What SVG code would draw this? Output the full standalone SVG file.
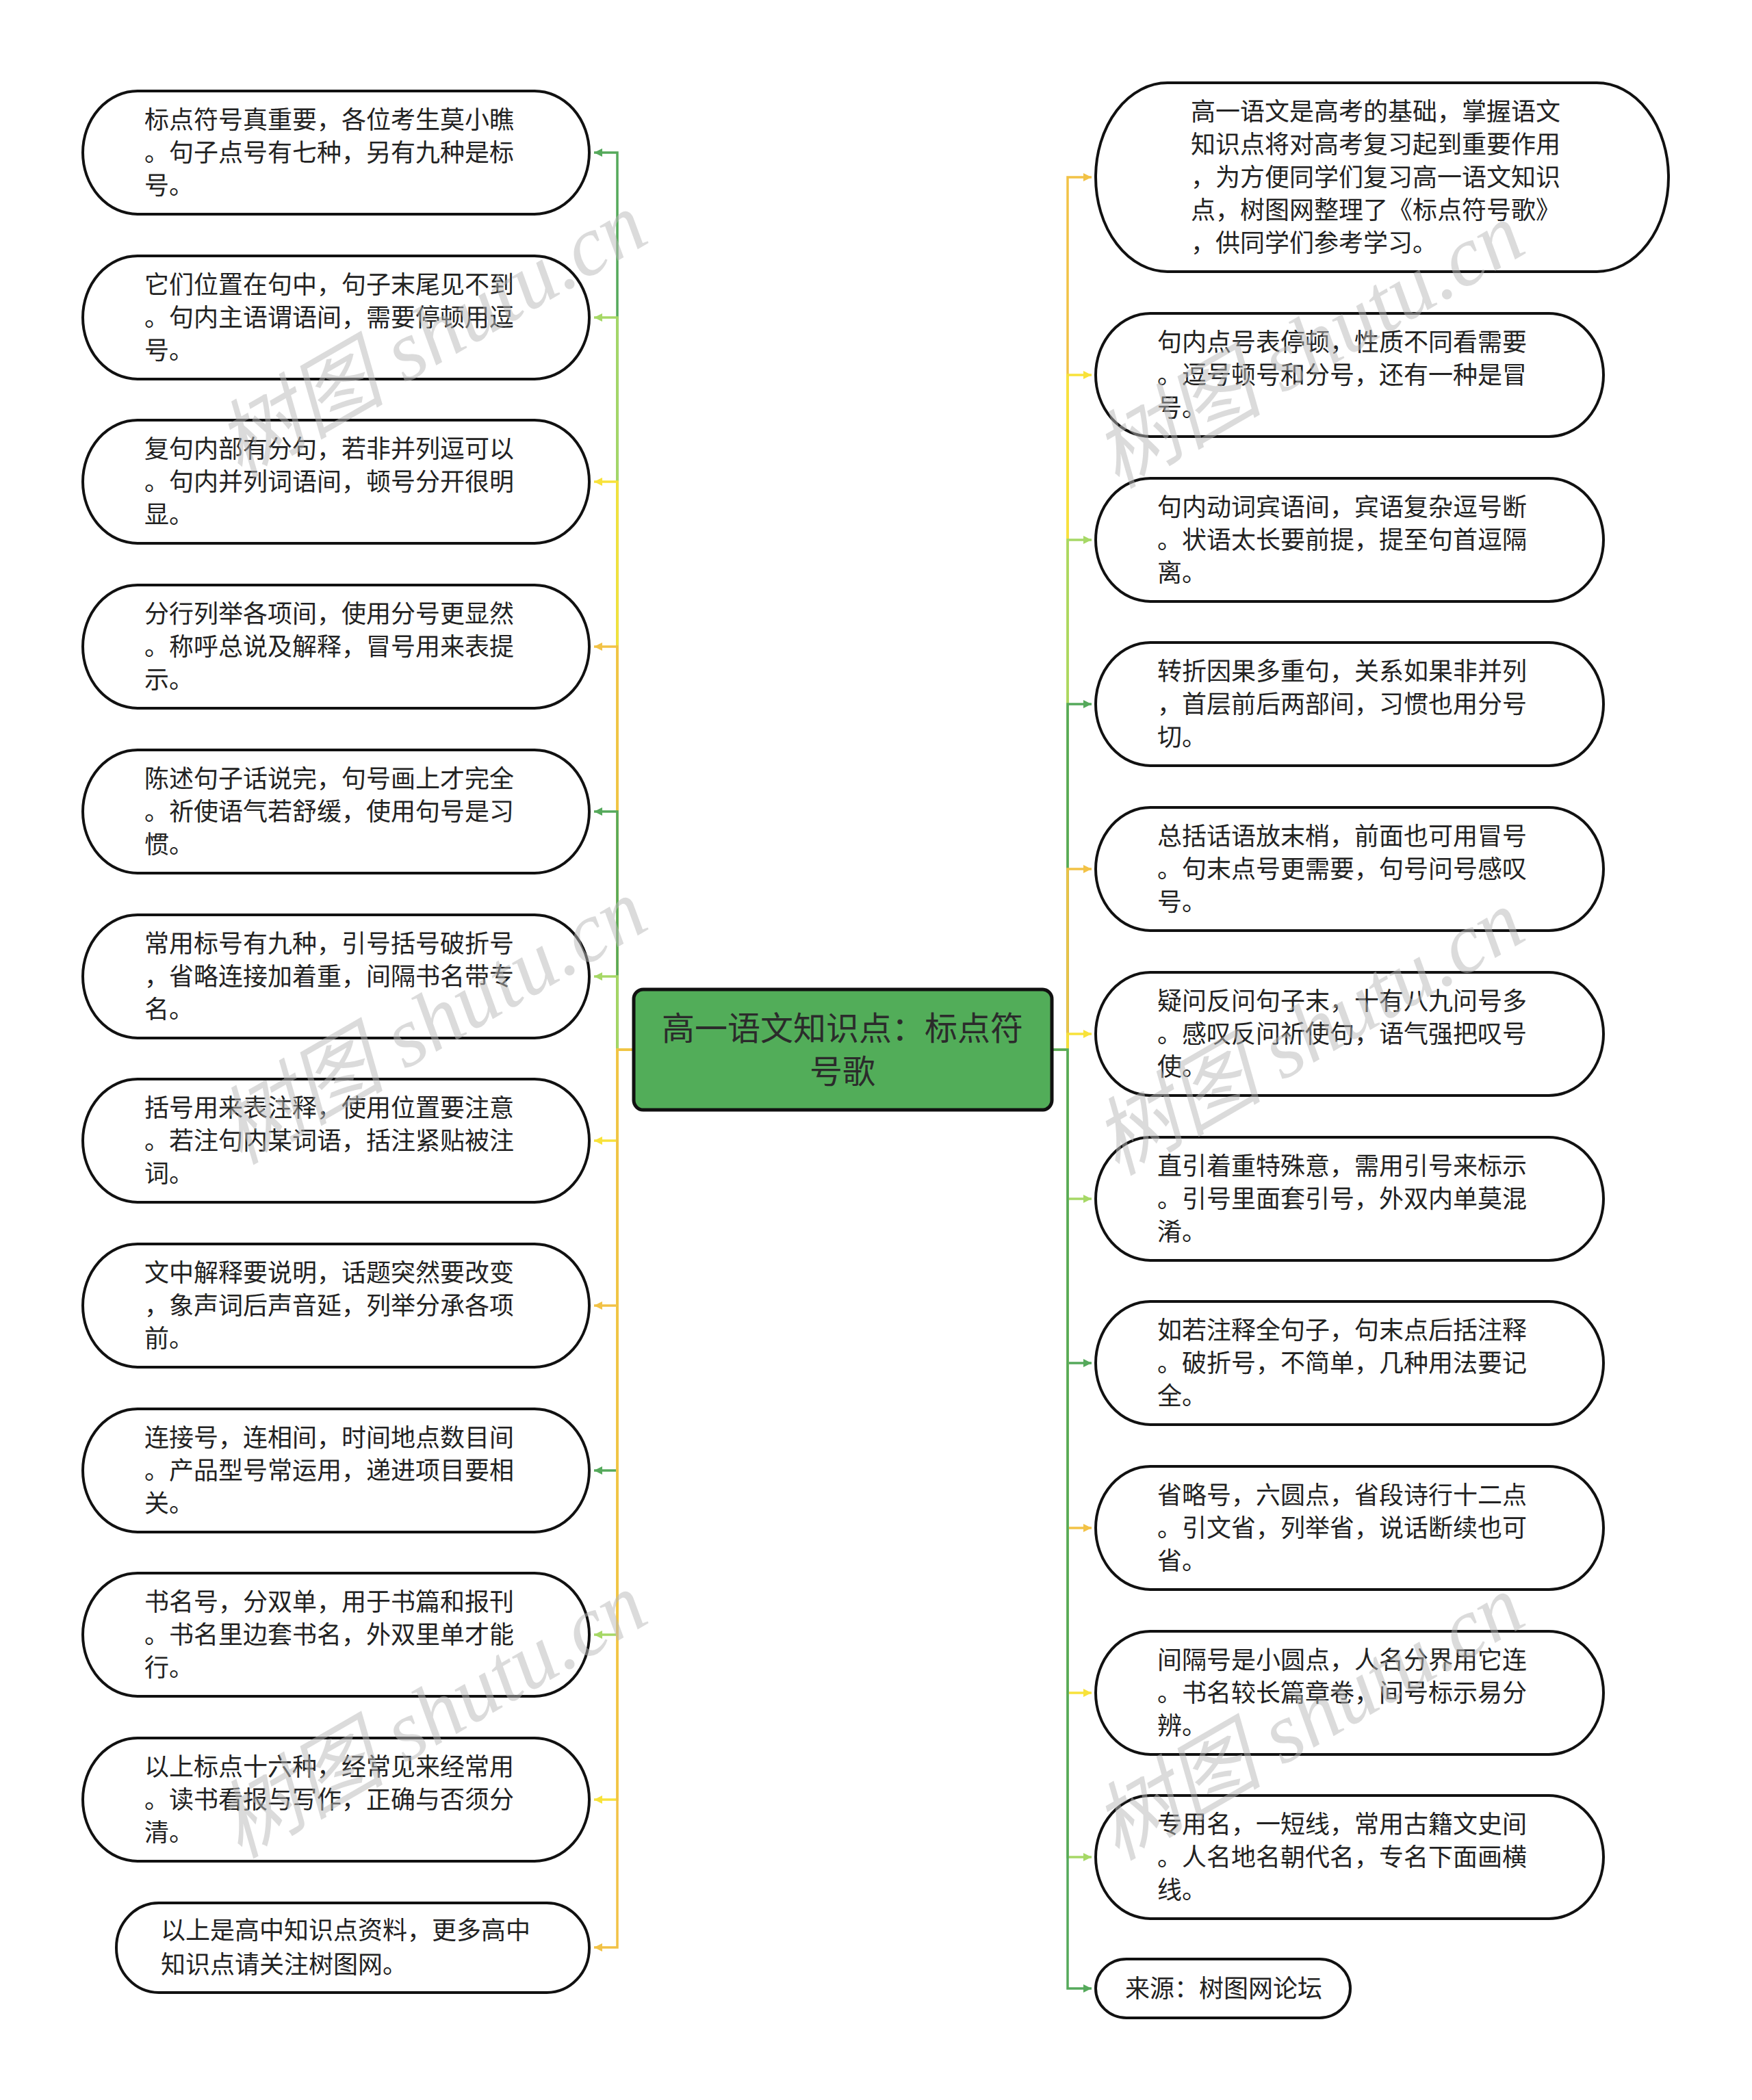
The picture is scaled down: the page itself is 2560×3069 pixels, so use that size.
<svg xmlns="http://www.w3.org/2000/svg" width="2560" height="3069" viewBox="0 0 2560 3069">
<style>
.bg{fill:#ffffff}
.node{fill:#ffffff;stroke:#111111;stroke-width:4}
.root{fill:#52ad59;stroke:#111111;stroke-width:5}
.t{font-family:"Noto Sans CJK SC","Noto Sans",sans-serif;font-size:36px;fill:#222222}
.rt{font-family:"Noto Sans CJK SC","Noto Sans",sans-serif;font-size:48px;fill:#2b2b2b;text-anchor:middle}
.c{fill:none;stroke-width:3.5}
.g{stroke:#55a95b}.lg{stroke:#a6d866}.y{stroke:#f8e23a}.o{stroke:#f2c246}
.wm{font-family:"Liberation Serif","Noto Sans CJK SC",serif;font-style:italic;font-size:124px;fill:#b8b8b8;opacity:0.5}
</style>
<defs>
<marker id="ag" viewBox="0 0 10 10" refX="10" refY="5" markerUnits="userSpaceOnUse" markerWidth="16" markerHeight="12" orient="auto"><path d="M0,0 L10,5 L0,10 z" fill="#55a95b"/></marker>
<marker id="alg" viewBox="0 0 10 10" refX="10" refY="5" markerUnits="userSpaceOnUse" markerWidth="16" markerHeight="12" orient="auto"><path d="M0,0 L10,5 L0,10 z" fill="#a6d866"/></marker>
<marker id="ay" viewBox="0 0 10 10" refX="10" refY="5" markerUnits="userSpaceOnUse" markerWidth="16" markerHeight="12" orient="auto"><path d="M0,0 L10,5 L0,10 z" fill="#f8e23a"/></marker>
<marker id="ao" viewBox="0 0 10 10" refX="10" refY="5" markerUnits="userSpaceOnUse" markerWidth="16" markerHeight="12" orient="auto"><path d="M0,0 L10,5 L0,10 z" fill="#f2c246"/></marker>
</defs>
<rect class="bg" x="0" y="0" width="2560" height="3069"/>

<g id="connectors">
<path class="c g" marker-end="url(#ag)" d="M926 1534 H902 V223 H868"/>
<path class="c lg" marker-end="url(#alg)" d="M926 1534 H902 V464 H868"/>
<path class="c y" marker-end="url(#ay)" d="M926 1534 H902 V704 H868"/>
<path class="c o" marker-end="url(#ao)" d="M926 1534 H902 V945 H868"/>
<path class="c g" marker-end="url(#ag)" d="M926 1534 H902 V1186 H868"/>
<path class="c lg" marker-end="url(#alg)" d="M926 1534 H902 V1427 H868"/>
<path class="c y" marker-end="url(#ay)" d="M926 1534 H902 V1667 H868"/>
<path class="c o" marker-end="url(#ao)" d="M926 1534 H902 V1908 H868"/>
<path class="c g" marker-end="url(#ag)" d="M926 1534 H902 V2149 H868"/>
<path class="c lg" marker-end="url(#alg)" d="M926 1534 H902 V2389 H868"/>
<path class="c y" marker-end="url(#ay)" d="M926 1534 H902 V2630 H868"/>
<path class="c o" marker-end="url(#ao)" d="M926 1534 H902 V2846 H868"/>

<path class="c o" marker-end="url(#ao)" d="M1537 1534 H1560 V259 H1595"/>
<path class="c y" marker-end="url(#ay)" d="M1537 1534 H1560 V548 H1595"/>
<path class="c lg" marker-end="url(#alg)" d="M1537 1534 H1560 V789 H1595"/>
<path class="c g" marker-end="url(#ag)" d="M1537 1534 H1560 V1029 H1595"/>
<path class="c o" marker-end="url(#ao)" d="M1537 1534 H1560 V1270 H1595"/>
<path class="c y" marker-end="url(#ay)" d="M1537 1534 H1560 V1511 H1595"/>
<path class="c lg" marker-end="url(#alg)" d="M1537 1534 H1560 V1752 H1595"/>
<path class="c g" marker-end="url(#ag)" d="M1537 1534 H1560 V1992 H1595"/>
<path class="c o" marker-end="url(#ao)" d="M1537 1534 H1560 V2233 H1595"/>
<path class="c y" marker-end="url(#ay)" d="M1537 1534 H1560 V2474 H1595"/>
<path class="c lg" marker-end="url(#alg)" d="M1537 1534 H1560 V2714 H1595"/>
<path class="c g" marker-end="url(#ag)" d="M1537 1534 H1560 V2906 H1595"/>
</g>

<g id="root">
<rect class="root" x="926" y="1446" width="611" height="176" rx="14" ry="14"/>
<text class="rt" x="1231" y="1520">高一语文知识点：标点符</text>
<text class="rt" x="1231" y="1583">号歌</text>
</g>

<g id="L1"><rect class="node" x="121" y="133" width="740" height="180" rx="80" ry="90"/>
<text class="t" x="211" y="188">标点符号真重要，各位考生莫小瞧</text><text class="t" x="211" y="236">。句子点号有七种，另有九种是标</text><text class="t" x="211" y="284">号。</text></g>
<g id="L2"><rect class="node" x="121" y="374" width="740" height="180" rx="80" ry="90"/>
<text class="t" x="211" y="429">它们位置在句中，句子末尾见不到</text><text class="t" x="211" y="477">。句内主语谓语间，需要停顿用逗</text><text class="t" x="211" y="525">号。</text></g>
<g id="L3"><rect class="node" x="121" y="614" width="740" height="180" rx="80" ry="90"/>
<text class="t" x="211" y="669">复句内部有分句，若非并列逗可以</text><text class="t" x="211" y="717">。句内并列词语间，顿号分开很明</text><text class="t" x="211" y="765">显。</text></g>
<g id="L4"><rect class="node" x="121" y="855" width="740" height="180" rx="80" ry="90"/>
<text class="t" x="211" y="910">分行列举各项间，使用分号更显然</text><text class="t" x="211" y="958">。称呼总说及解释，冒号用来表提</text><text class="t" x="211" y="1006">示。</text></g>
<g id="L5"><rect class="node" x="121" y="1096" width="740" height="180" rx="80" ry="90"/>
<text class="t" x="211" y="1151">陈述句子话说完，句号画上才完全</text><text class="t" x="211" y="1199">。祈使语气若舒缓，使用句号是习</text><text class="t" x="211" y="1247">惯。</text></g>
<g id="L6"><rect class="node" x="121" y="1337" width="740" height="180" rx="80" ry="90"/>
<text class="t" x="211" y="1392">常用标号有九种，引号括号破折号</text><text class="t" x="211" y="1440">，省略连接加着重，间隔书名带专</text><text class="t" x="211" y="1488">名。</text></g>
<g id="L7"><rect class="node" x="121" y="1577" width="740" height="180" rx="80" ry="90"/>
<text class="t" x="211" y="1632">括号用来表注释，使用位置要注意</text><text class="t" x="211" y="1680">。若注句内某词语，括注紧贴被注</text><text class="t" x="211" y="1728">词。</text></g>
<g id="L8"><rect class="node" x="121" y="1818" width="740" height="180" rx="80" ry="90"/>
<text class="t" x="211" y="1873">文中解释要说明，话题突然要改变</text><text class="t" x="211" y="1921">，象声词后声音延，列举分承各项</text><text class="t" x="211" y="1969">前。</text></g>
<g id="L9"><rect class="node" x="121" y="2059" width="740" height="180" rx="80" ry="90"/>
<text class="t" x="211" y="2114">连接号，连相间，时间地点数目间</text><text class="t" x="211" y="2162">。产品型号常运用，递进项目要相</text><text class="t" x="211" y="2210">关。</text></g>
<g id="L10"><rect class="node" x="121" y="2299" width="740" height="180" rx="80" ry="90"/>
<text class="t" x="211" y="2354">书名号，分双单，用于书篇和报刊</text><text class="t" x="211" y="2402">。书名里边套书名，外双里单才能</text><text class="t" x="211" y="2450">行。</text></g>
<g id="L11"><rect class="node" x="121" y="2540" width="740" height="180" rx="80" ry="90"/>
<text class="t" x="211" y="2595">以上标点十六种，经常见来经常用</text><text class="t" x="211" y="2643">。读书看报与写作，正确与否须分</text><text class="t" x="211" y="2691">清。</text></g>
<g id="L12"><rect class="node" x="170" y="2781" width="691" height="131" rx="62" ry="65"/>
<text class="t" x="235" y="2834">以上是高中知识点资料，更多高中</text><text class="t" x="235" y="2884">知识点请关注树图网。</text></g>

<g id="R0"><rect class="node" x="1601" y="121" width="837" height="276" rx="105" ry="138"/>
<text class="t" x="1740" y="176">高一语文是高考的基础，掌握语文</text><text class="t" x="1740" y="224">知识点将对高考复习起到重要作用</text><text class="t" x="1740" y="272">，为方便同学们复习高一语文知识</text><text class="t" x="1740" y="320">点，树图网整理了《标点符号歌》</text><text class="t" x="1740" y="368">，供同学们参考学习。</text></g>
<g id="R1"><rect class="node" x="1601" y="458" width="742" height="180" rx="80" ry="90"/>
<text class="t" x="1691" y="513">句内点号表停顿，性质不同看需要</text><text class="t" x="1691" y="561">。逗号顿号和分号，还有一种是冒</text><text class="t" x="1691" y="609">号。</text></g>
<g id="R2"><rect class="node" x="1601" y="699" width="742" height="180" rx="80" ry="90"/>
<text class="t" x="1691" y="754">句内动词宾语间，宾语复杂逗号断</text><text class="t" x="1691" y="802">。状语太长要前提，提至句首逗隔</text><text class="t" x="1691" y="850">离。</text></g>
<g id="R3"><rect class="node" x="1601" y="939" width="742" height="180" rx="80" ry="90"/>
<text class="t" x="1691" y="994">转折因果多重句，关系如果非并列</text><text class="t" x="1691" y="1042">，首层前后两部间，习惯也用分号</text><text class="t" x="1691" y="1090">切。</text></g>
<g id="R4"><rect class="node" x="1601" y="1180" width="742" height="180" rx="80" ry="90"/>
<text class="t" x="1691" y="1235">总括话语放末梢，前面也可用冒号</text><text class="t" x="1691" y="1283">。句末点号更需要，句号问号感叹</text><text class="t" x="1691" y="1331">号。</text></g>
<g id="R5"><rect class="node" x="1601" y="1421" width="742" height="180" rx="80" ry="90"/>
<text class="t" x="1691" y="1476">疑问反问句子末，十有八九问号多</text><text class="t" x="1691" y="1524">。感叹反问祈使句，语气强把叹号</text><text class="t" x="1691" y="1572">使。</text></g>
<g id="R6"><rect class="node" x="1601" y="1662" width="742" height="180" rx="80" ry="90"/>
<text class="t" x="1691" y="1717">直引着重特殊意，需用引号来标示</text><text class="t" x="1691" y="1765">。引号里面套引号，外双内单莫混</text><text class="t" x="1691" y="1813">淆。</text></g>
<g id="R7"><rect class="node" x="1601" y="1902" width="742" height="180" rx="80" ry="90"/>
<text class="t" x="1691" y="1957">如若注释全句子，句末点后括注释</text><text class="t" x="1691" y="2005">。破折号，不简单，几种用法要记</text><text class="t" x="1691" y="2053">全。</text></g>
<g id="R8"><rect class="node" x="1601" y="2143" width="742" height="180" rx="80" ry="90"/>
<text class="t" x="1691" y="2198">省略号，六圆点，省段诗行十二点</text><text class="t" x="1691" y="2246">。引文省，列举省，说话断续也可</text><text class="t" x="1691" y="2294">省。</text></g>
<g id="R9"><rect class="node" x="1601" y="2384" width="742" height="180" rx="80" ry="90"/>
<text class="t" x="1691" y="2439">间隔号是小圆点，人名分界用它连</text><text class="t" x="1691" y="2487">。书名较长篇章卷，间号标示易分</text><text class="t" x="1691" y="2535">辨。</text></g>
<g id="R10"><rect class="node" x="1601" y="2624" width="742" height="180" rx="80" ry="90"/>
<text class="t" x="1691" y="2679">专用名，一短线，常用古籍文史间</text><text class="t" x="1691" y="2727">。人名地名朝代名，专名下面画横</text><text class="t" x="1691" y="2775">线。</text></g>
<g id="R11"><rect class="node" x="1601" y="2863" width="372" height="86" rx="45" ry="43"/>
<text class="t" x="1644" y="2919">来源：树图网论坛</text></g>

<g id="watermark">
<text class="wm" x="350" y="700" transform="rotate(-30 350 700)">树图 shutu.cn</text>
<text class="wm" x="350" y="1703" transform="rotate(-30 350 1703)">树图 shutu.cn</text>
<text class="wm" x="350" y="2717" transform="rotate(-30 350 2717)">树图 shutu.cn</text>
<text class="wm" x="1632" y="715" transform="rotate(-30 1632 715)">树图 shutu.cn</text>
<text class="wm" x="1632" y="1719" transform="rotate(-30 1632 1719)">树图 shutu.cn</text>
<text class="wm" x="1632" y="2720" transform="rotate(-30 1632 2720)">树图 shutu.cn</text>
</g>
</svg>
